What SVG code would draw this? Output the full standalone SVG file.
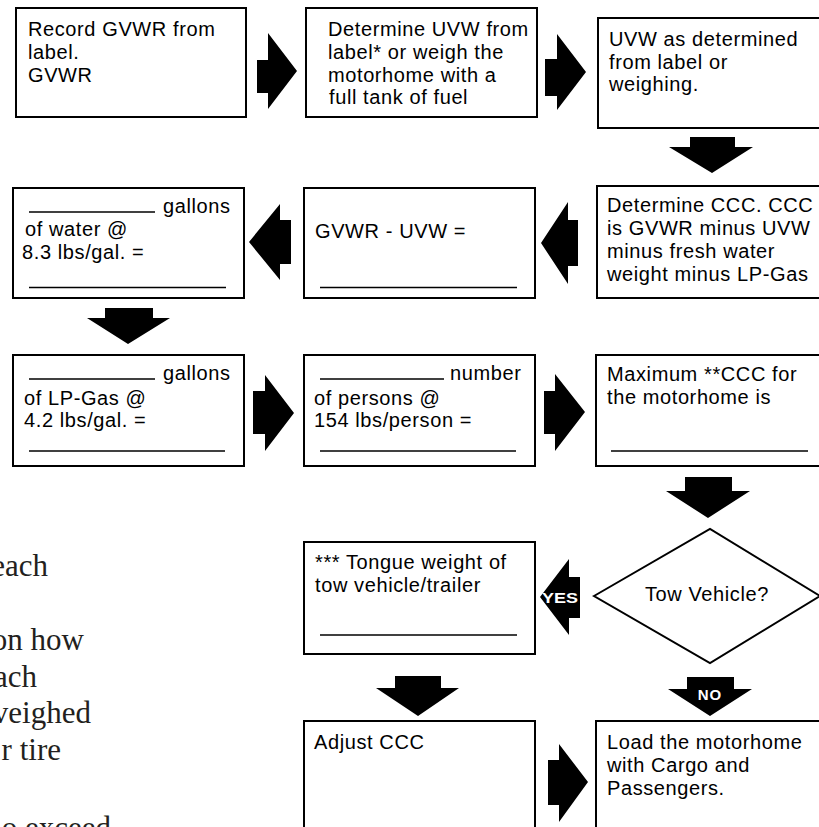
<svg xmlns="http://www.w3.org/2000/svg" width="819" height="827" viewBox="0 0 819 827">
<style>
.box{fill:#fff;stroke:#000;stroke-width:2}
.t{font-family:"Liberation Sans",Arial,sans-serif;font-size:20px;letter-spacing:0.6px;fill:#000}
.u{stroke:#000;stroke-width:1.6}
.arr{fill:#000}
.lab{font-family:"Liberation Sans",Arial,sans-serif;font-weight:bold;fill:#fff;text-anchor:middle}
.serif{font-family:"Liberation Serif","Times New Roman",serif;font-size:31px;fill:#231f20;text-anchor:end}
</style>
<rect width="819" height="827" fill="#fff"/>

<g id="side-text">
<text class="serif" x="48" y="576">each</text>
<text class="serif" x="84" y="650">on how</text>
<text class="serif" x="37" y="687">ach</text>
<text class="serif" x="91" y="723">veighed</text>
<text class="serif" x="61" y="760">r tire</text>
<text class="serif" x="111" y="838">o exceed</text>
</g>

<g id="connectors">
<polygon class="arr" points="257,60 268,60 268,33 297,71 268,109 268,93 257,93"/>
<polygon class="arr" points="545,59 557,59 557,34 586,72 557,110 557,96 545,96"/>
<polygon class="arr" points="690,137 735,137 735,147 753,147 712,173 669,147 690,147"/>
<polygon class="arr" points="578,220 568,220 568,202 541,243 568,284 568,266 578,266"/>
<polygon class="arr" points="291,220 280,220 280,204 249,242 280,280 280,264 291,264"/>
<polygon class="arr" points="105,308 153,308 153,318 170,318 128,344 87,318 105,318"/>
<polygon class="arr" points="253,391 265,391 265,375 294,413 265,451 265,434 253,434"/>
<polygon class="arr" points="544,391 555,391 555,374 585,412 555,451 555,434 544,434"/>
<polygon class="arr" points="685,477 732,477 732,491 750,491 708,518 666,491 685,491"/>
<g id="yes-arrow">
<polygon class="arr" points="580,577 569,577 569,559 540,597 569,635 569,618 580,618"/>
<text class="lab" x="560" y="603" font-size="15" textLength="36" lengthAdjust="spacingAndGlyphs">YES</text>
</g>
<g id="no-arrow">
<polygon class="arr" points="687,677 734,677 734,689 752,689 710,716 668,689 687,689"/>
<text class="lab" x="710" y="700" font-size="15" letter-spacing="1">NO</text>
</g>
<polygon class="arr" points="395,676 441,676 441,688 459,688 418,716 376,688 395,688"/>
<polygon class="arr" points="548,760 559,760 559,744 588,782 559,822 559,805 548,805"/>
</g>

<g id="record-gvwr">
<rect class="box" x="16" y="8" width="230" height="109"/>
<text class="t" x="28" y="36">Record GVWR from</text>
<text class="t" x="28" y="59">label.</text>
<text class="t" x="28" y="82">GVWR</text>
</g>

<g id="determine-uvw">
<rect class="box" x="306" y="8" width="231" height="109"/>
<text class="t" x="328" y="36">Determine UVW from</text>
<text class="t" x="328" y="59">label* or weigh the</text>
<text class="t" x="328" y="82">motorhome with a</text>
<text class="t" x="329" y="104">full tank of fuel</text>
</g>

<g id="uvw-determined">
<rect class="box" x="598" y="18" width="240" height="110"/>
<text class="t" x="609" y="46">UVW as determined</text>
<text class="t" x="609" y="69">from label or</text>
<text class="t" x="609" y="91">weighing.</text>
</g>

<g id="determine-ccc">
<rect class="box" x="597" y="186" width="240" height="112"/>
<text class="t" x="607" y="212">Determine CCC. CCC</text>
<text class="t" x="607" y="235">is GVWR minus UVW</text>
<text class="t" x="607" y="258">minus fresh water</text>
<text class="t" x="607" y="281">weight minus LP-Gas</text>
</g>

<g id="gvwr-minus-uvw">
<rect class="box" x="304" y="188" width="231" height="110"/>
<text class="t" x="315" y="238">GVWR - UVW =</text>
<line class="u" x1="320" y1="287.5" x2="517" y2="287.5"/>
</g>

<g id="water">
<rect class="box" x="13" y="188" width="231" height="110"/>
<line class="u" x1="29" y1="212" x2="155" y2="212"/>
<text class="t" x="163" y="213">gallons</text>
<text class="t" x="25" y="236">of water @</text>
<text class="t" x="22" y="259">8.3 lbs/gal. =</text>
<line class="u" x1="29" y1="287.5" x2="226" y2="287.5"/>
</g>

<g id="lp-gas">
<rect class="box" x="13" y="355" width="231" height="111"/>
<line class="u" x1="29" y1="379" x2="155" y2="379"/>
<text class="t" x="163" y="380">gallons</text>
<text class="t" x="24" y="405">of LP-Gas @</text>
<text class="t" x="24" y="427">4.2 lbs/gal. =</text>
<line class="u" x1="29" y1="451" x2="225" y2="451"/>
</g>

<g id="persons">
<rect class="box" x="304" y="355" width="231" height="111"/>
<line class="u" x1="320" y1="379" x2="444" y2="379"/>
<text class="t" x="450" y="380">number</text>
<text class="t" x="314" y="405">of persons @</text>
<text class="t" x="314" y="427">154 lbs/person =</text>
<line class="u" x1="320" y1="451" x2="516" y2="451"/>
</g>

<g id="maximum-ccc">
<rect class="box" x="596" y="355" width="240" height="111"/>
<text class="t" x="607" y="381">Maximum **CCC for</text>
<text class="t" x="607" y="404">the motorhome is</text>
<line class="u" x1="611" y1="451" x2="808" y2="451"/>
</g>

<g id="tow-vehicle">
<polygon points="594,596 710,529 820,596 710,663" fill="#fff" stroke="#000" stroke-width="2"/>
<text class="t" x="707" y="601" text-anchor="middle">Tow Vehicle?</text>
</g>

<g id="tongue-weight">
<rect class="box" x="304" y="542" width="231" height="112"/>
<text class="t" x="315" y="569">*** Tongue weight of</text>
<text class="t" x="315" y="592">tow vehicle/trailer</text>
<line class="u" x1="320" y1="635" x2="517" y2="635"/>
</g>

<g id="adjust-ccc">
<rect class="box" x="304" y="721" width="231" height="130"/>
<text class="t" x="314" y="749">Adjust CCC</text>
</g>

<g id="load-motorhome">
<rect class="box" x="596" y="721" width="240" height="130"/>
<text class="t" x="607" y="749">Load the motorhome</text>
<text class="t" x="607" y="772">with Cargo and</text>
<text class="t" x="607" y="795">Passengers.</text>
</g>
</svg>
